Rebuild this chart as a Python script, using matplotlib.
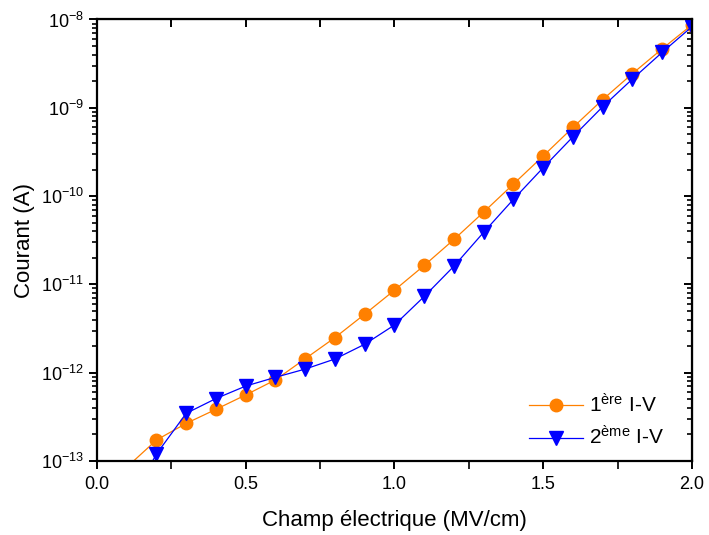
import matplotlib
matplotlib.use("Agg")
import matplotlib.pyplot as plt
import numpy as np
from matplotlib.ticker import FixedLocator, MultipleLocator, LogFormatterMathtext, NullFormatter

plt.rcParams['font.family'] = ['Liberation Sans', 'DejaVu Sans']
plt.rcParams['mathtext.fontset'] = 'custom'
plt.rcParams['mathtext.rm'] = 'Liberation Sans'
plt.rcParams['mathtext.it'] = 'Liberation Sans:italic'
plt.rcParams['mathtext.bf'] = 'Liberation Sans:bold'

field = [0.1, 0.2, 0.3, 0.4, 0.5, 0.6, 0.7, 0.8, 0.9, 1.0,
         1.1, 1.2, 1.3, 1.4, 1.5, 1.6, 1.7, 1.8, 1.9, 2.0]
iv1 = [8.5e-14, 1.73e-13, 2.67e-13, 3.85e-13, 5.6e-13, 8.3e-13, 1.44e-12, 2.5e-12, 4.6e-12, 8.6e-12,
       1.64e-11, 3.23e-11, 6.6e-11, 1.37e-10, 2.85e-10, 6.0e-10, 1.24e-9, 2.44e-9, 4.66e-9, 8.7e-9]
iv2 = [3e-14, 1.2e-13, 3.47e-13, 5.1e-13, 7.06e-13, 8.87e-13, 1.1e-12, 1.43e-12, 2.1e-12, 3.47e-12,
       7.3e-12, 1.61e-11, 3.9e-11, 9.2e-11, 2.1e-10, 4.7e-10, 1.03e-9, 2.12e-9, 4.25e-9, 8.3e-9]
labels = [r'1$^{\mathrm{ère}}$ I-V', r'2$^{\mathrm{ème}}$ I-V']
decades = [-13, -12, -11, -10, -9, -8]

major_y = [10.0 ** d for d in decades]
minor_y = [m * 10.0 ** d for d in decades[:-1] for m in range(2, 10)]

fig = plt.figure(figsize=(7.09, 5.35), dpi=100)
ax = fig.add_axes([0.1368, 0.1383, 0.8392, 0.8253])

ax.plot(field, iv1, color='#FF8000', lw=0.9, marker='o', ms=9, mec='#FF8000', mfc='#FF8000', label=labels[0])
ax.plot(field, iv2, color='#0000FF', lw=0.9, marker='v', ms=10, mec='#0000FF', mfc='#0000FF', label=labels[1])

ax.set_yscale('log')
ax.set_xlim(0, 2.0)
ax.set_ylim(major_y[0], major_y[-1])

ax.xaxis.set_major_locator(MultipleLocator(0.5))
ax.xaxis.set_minor_locator(MultipleLocator(0.25))
ax.yaxis.set_major_locator(FixedLocator(major_y))
ax.yaxis.set_minor_locator(FixedLocator(minor_y))
ax.yaxis.set_major_formatter(LogFormatterMathtext())
ax.yaxis.set_minor_formatter(NullFormatter())

for s in ax.spines.values():
    s.set_linewidth(1.6)

ax.tick_params(axis='both', which='major', labelsize=13, width=1.4, length=6)
ax.tick_params(axis='both', which='minor', width=1.2, length=3.5)
ax.tick_params(axis='x', which='minor', length=6)
ax.tick_params(axis='x', which='both', direction='out', top=False, pad=5)
ax.tick_params(axis='y', which='both', direction='out', right=False)

# mirrored inward ticks on top and right
sec_x = ax.secondary_xaxis('top')
sec_x.xaxis.set_major_locator(MultipleLocator(0.25))
sec_x.xaxis.set_major_formatter(NullFormatter())
sec_x.tick_params(direction='in', length=6, width=1.4, labeltop=False)
sec_y = ax.secondary_yaxis('right')
sec_y.yaxis.set_major_locator(FixedLocator(major_y))
sec_y.yaxis.set_minor_locator(FixedLocator(minor_y))
sec_y.yaxis.set_major_formatter(NullFormatter())
sec_y.yaxis.set_minor_formatter(NullFormatter())
sec_y.tick_params(which='major', direction='in', length=6, width=1.4, labelright=False)
sec_y.tick_params(which='minor', direction='in', length=3.5, width=1.2)

ax.set_xlabel('Champ électrique (MV/cm)', fontsize=16, labelpad=12)
ax.set_ylabel('Courant (A)', fontsize=16, labelpad=4)

ax.legend(loc='lower right', bbox_to_anchor=(0.985, -0.015), frameon=False, fontsize=15,
          handlelength=2.6, handletextpad=0.3, labelspacing=0.45, markerscale=1.0)

fig.savefig('out.png', dpi=100)
